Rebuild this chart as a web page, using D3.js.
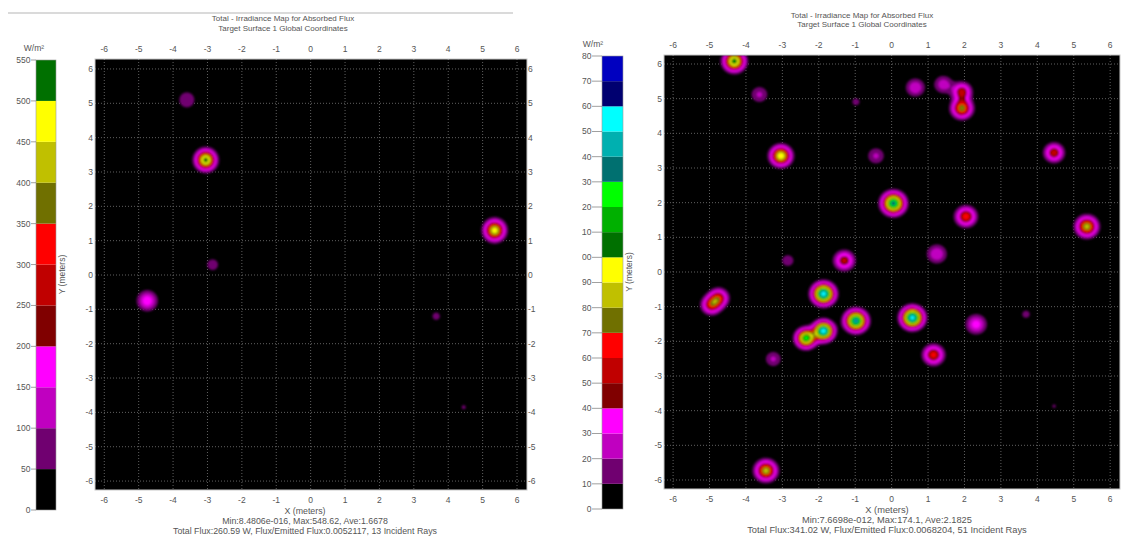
<!DOCTYPE html>
<html>
<head>
<meta charset="utf-8">
<script src="https://cdn.jsdelivr.net/npm/d3@7"></script>
<style>
body { margin: 0; background: #fff; }
text { font-family: "Liberation Sans", Arial, sans-serif; fill: #555; }
</style>
</head>
<body>
<div id="chart"></div>
<script>
// ---- data ----
const titleLines = ["Total - Irradiance Map for Absorbed Flux", "Target Surface 1    Global Coordinates"];
const gridTicks = [-6, -5, -4, -3, -2, -1, 0, 1, 2, 3, 4, 5, 6];

// colour of each legend band, bottom (lowest) first
const bandColors = ["#000000", "#700070", "#c000c0", "#ff00ff", "#800000", "#c00000", "#ff0000",
  "#707000", "#c0c000", "#ffff00", "#007000", "#00b000", "#00ff00", "#007070", "#00b0b0",
  "#00ffff", "#000070", "#0000c0"];

// left map : 13 incident rays
const leftLegendTicks = [0, 50, 100, 150, 200, 250, 300, 350, 400, 450, 500, 550];
const leftSpotX     = [-3.6, -3.05, 5.35, -2.85, -4.75, 3.65, 4.45];
const leftSpotY     = [5.1, 3.35, 1.3, 0.3, -0.75, -1.2, -3.85];
const leftSpotPeak  = [90, 545, 480, 80, 190, 72, 60];
const leftSpotSigma = [0.2, 0.18, 0.185, 0.16, 0.19, 0.125, 0.1];
const leftStats = ["Min:8.4806e-016, Max:548.62, Ave:1.6678",
  "Total Flux:260.59 W, Flux/Emitted Flux:0.0052117, 13 Incident Rays"];

// right map : 51 incident rays
const rightLegendTicks = [0, 10, 20, 30, 40, 50, 60, 70, 80, 90, 100, 110, 120, 130, 140, 150, 160, 170, 180];
const rightSpotX     = [-4.32, -3.63, -0.98, 0.65, 1.42, 1.93, 1.93, -3.04, -0.43, 4.46, 0.05, 2.04, 5.36,
  -2.85, -1.3, 1.24, -4.95, -4.75, -1.87, -0.98, 0.57, 2.32, 3.69, -2.35, -1.87, -3.25, 1.15, 4.46, -3.45];
const rightSpotY     = [6.08, 5.12, 4.91, 5.32, 5.41, 5.2, 4.72, 3.35, 3.35, 3.44, 1.98, 1.6, 1.31,
  0.33, 0.33, 0.52, -0.95, -0.75, -0.63, -1.41, -1.32, -1.51, -1.22, -1.91, -1.7, -2.51, -2.39, -3.87, -5.73];
const rightSpotPeak  = [112, 22, 17, 30, 27, 55, 80, 100, 22, 58, 140, 66, 86,
  20, 54, 30, 60, 60, 158, 145, 156, 36, 18, 125, 160, 22, 64, 14, 86];
const rightSpotSigma = [0.175, 0.17, 0.095, 0.175, 0.175, 0.165, 0.175, 0.175, 0.17, 0.165, 0.185, 0.175, 0.18,
  0.13, 0.175, 0.185, 0.165, 0.165, 0.18, 0.18, 0.18, 0.185, 0.095, 0.165, 0.165, 0.16, 0.175, 0.06, 0.18];
const rightStats = ["Min:7.6698e-012, Max:174.1, Ave:2.1825",
  "Total Flux:341.02 W, Flux/Emitted Flux:0.0068204, 51 Incident Rays"];

// ---- page ----
const svg = d3.select("#chart").append("svg")
  .attr("width", 1121).attr("height", 538).style("display", "block");
svg.append("rect").attr("width", 1121).attr("height", 538).attr("fill", "#fff");

const defs = svg.append("defs");
defs.append("filter").attr("id", "soft")
  .append("feGaussianBlur").attr("stdDeviation", 0.9);

// thin rule above the left map
svg.append("line").attr("x1", 8).attr("x2", 513).attr("y1", 13).attr("y2", 13)
  .attr("stroke", "#b5b5b5");

function drawPanel(p) {
  const g = svg.append("g").attr("id", p.id);

  // scales
  const x = d3.scaleLinear().domain(p.xDomain).range([p.box[0], p.box[2]]);
  const y = d3.scaleLinear().domain(p.yDomain).range([p.box[3], p.box[1]]);
  const cb = d3.scaleLinear().domain(d3.extent(p.legendTicks)).range([p.cbBox[3], p.cbBox[1]]);

  // titles
  g.selectAll(".title").data(titleLines).enter().append("text")
    .attr("x", p.titleX).attr("y", (d, i) => p.titleY + i * 9.5)
    .attr("text-anchor", "middle").style("font-size", "8px").text(d => d);

  // heat map : summed spots, banded on the legend steps
  const nx = Math.round(p.box[2] - p.box[0]), ny = Math.round(p.box[3] - p.box[1]);
  const gx = d3.scaleLinear().domain([0, nx]).range(p.xDomain);
  const gy = d3.scaleLinear().domain([0, ny]).range([p.yDomain[1], p.yDomain[0]]);
  const values = new Float64Array(nx * ny);
  for (let j = 0; j < ny; j++) {
    const my = gy(j + 0.5);
    for (let i = 0; i < nx; i++) {
      const mx = gx(i + 0.5);
      let v = 0;
      for (let k = 0; k < p.sx.length; k++) {
        const dx = mx - p.sx[k], dy = my - p.sy[k], s = p.ss[k];
        v += p.sp[k] * Math.exp(-(dx * dx + dy * dy) / (2 * s * s));
      }
      values[j * nx + i] = v;
    }
  }
  const thresholds = p.legendTicks.slice(1, -1);
  const bands = d3.contours().size([nx, ny]).thresholds(thresholds)(values);
  const toPx = d3.geoTransform({
    point(a, b) { this.stream.point(x(gx(a)), y(gy(b))); }
  });
  const path = d3.geoPath(toPx);

  defs.append("clipPath").attr("id", p.id + "-clip").append("rect")
    .attr("x", p.box[0]).attr("y", p.box[1])
    .attr("width", p.box[2] - p.box[0]).attr("height", p.box[3] - p.box[1]);

  const plot = g.append("g").attr("clip-path", `url(#${p.id}-clip)`);
  plot.append("rect").attr("x", p.box[0]).attr("y", p.box[1])
    .attr("width", p.box[2] - p.box[0]).attr("height", p.box[3] - p.box[1]).attr("fill", "#000");

  // dotted grid
  plot.selectAll(".vg").data(gridTicks).enter().append("line")
    .attr("x1", d => x(d)).attr("x2", d => x(d)).attr("y1", p.box[1]).attr("y2", p.box[3])
    .attr("stroke", "#606060").attr("stroke-dasharray", "1,2");
  plot.selectAll(".hg").data(gridTicks).enter().append("line")
    .attr("y1", d => y(d)).attr("y2", d => y(d)).attr("x1", p.box[0]).attr("x2", p.box[2])
    .attr("stroke", "#606060").attr("stroke-dasharray", "1,2");

  plot.append("g").attr("filter", "url(#soft)")
    .selectAll("path").data(bands).enter().append("path")
    .attr("d", path).attr("fill", (d, i) => bandColors[i + 1]);

  g.append("rect").attr("x", p.box[0]).attr("y", p.box[1])
    .attr("width", p.box[2] - p.box[0]).attr("height", p.box[3] - p.box[1])
    .attr("fill", "none").attr("stroke", "#c8c8c8");

  // tick labels
  const fs = p.tickSize + "px";
  g.selectAll(".xt").data(gridTicks).enter().append("text")
    .attr("x", d => x(d)).attr("y", p.box[1] - 7).attr("text-anchor", "middle")
    .style("font-size", fs).text(d => d);
  g.selectAll(".xb").data(gridTicks).enter().append("text")
    .attr("x", d => x(d)).attr("y", p.box[3] + 13).attr("text-anchor", "middle")
    .style("font-size", fs).text(d => d);
  g.selectAll(".yl").data(gridTicks).enter().append("text")
    .attr("x", p.box[0] - 2).attr("y", d => y(d)).attr("dy", "0.35em").attr("text-anchor", "end")
    .style("font-size", fs).text(d => d);
  if (p.rightLabels) {
    g.selectAll(".yr").data(gridTicks).enter().append("text")
      .attr("x", p.box[2] + 1).attr("y", d => y(d)).attr("dy", "0.35em")
      .style("font-size", fs).text(d => d);
  }

  // axis titles and stats
  g.append("text").attr("x", p.footX).attr("y", p.box[3] + 24).attr("text-anchor", "middle")
    .style("font-size", p.footSize + "px").text("X (meters)");
  g.selectAll(".stat").data(p.stats).enter().append("text")
    .attr("x", p.footX).attr("y", (d, i) => p.box[3] + 34 + i * 10).attr("text-anchor", "middle")
    .style("font-size", p.footSize + "px").text(d => d);
  g.append("text")
    .attr("transform", `translate(${p.yLabelX},${(p.box[1] + p.box[3]) / 2}) rotate(-90)`)
    .attr("text-anchor", "middle").attr("dy", "0.35em")
    .style("font-size", fs).text("Y (meters)");

  // legend colour bar
  const lg = g.append("g");
  lg.selectAll("rect").data(p.legendTicks.slice(0, -1)).enter().append("rect")
    .attr("x", p.cbBox[0]).attr("width", p.cbBox[2] - p.cbBox[0])
    .attr("y", (d, i) => cb(p.legendTicks[i + 1])).attr("height", (d, i) => cb(d) - cb(p.legendTicks[i + 1]))
    .attr("fill", (d, i) => bandColors[i]);
  lg.append("rect").attr("x", p.cbBox[0]).attr("y", p.cbBox[1])
    .attr("width", p.cbBox[2] - p.cbBox[0]).attr("height", p.cbBox[3] - p.cbBox[1])
    .attr("fill", "none").attr("stroke", "#999").attr("stroke-width", 0.6);

  // the right picture is cropped on its left, hiding the hundreds digit
  defs.append("clipPath").attr("id", p.id + "-lab").append("rect")
    .attr("x", p.labelClip).attr("y", 0).attr("width", 200).attr("height", 538);
  const lab = lg.append("g").attr("clip-path", `url(#${p.id}-lab)`);
  lab.selectAll("line").data(p.legendTicks).enter().append("line")
    .attr("x1", p.cbLabelX).attr("x2", p.cbBox[0]).attr("y1", d => cb(d)).attr("y2", d => cb(d))
    .attr("stroke", "#777").attr("stroke-width", 0.7);
  lab.selectAll("text").data(p.legendTicks).enter().append("text")
    .attr("x", p.cbLabelX - 0.5).attr("y", d => cb(d)).attr("dy", "0.35em").attr("text-anchor", "end")
    .style("font-size", fs).text(d => d);
  lab.append("text").attr("x", p.unitX).attr("y", p.cbBox[1] - 9).attr("text-anchor", "middle")
    .style("font-size", fs).text("W/m²");
}

drawPanel({
  id: "left", box: [95, 59, 527, 490], xDomain: [-6.27, 6.29], yDomain: [-6.26, 6.29],
  cbBox: [36, 60, 56, 510], cbLabelX: 31, labelClip: 0, unitX: 34, yLabelX: 62,
  titleX: 283, titleY: 21, footX: 305, tickSize: 8.5, footSize: 8.8, rightLabels: true,
  legendTicks: leftLegendTicks, stats: leftStats,
  sx: leftSpotX, sy: leftSpotY, sp: leftSpotPeak, ss: leftSpotSigma
});

drawPanel({
  id: "right", box: [664, 55, 1120, 489], xDomain: [-6.25, 6.27], yDomain: [-6.26, 6.26],
  cbBox: [602, 56, 623, 509], cbLabelX: 592, labelClip: 582, unitX: 593, yLabelX: 629,
  titleX: 862, titleY: 17.5, footX: 887, tickSize: 8.5, footSize: 9.3, rightLabels: false,
  legendTicks: rightLegendTicks, stats: rightStats,
  sx: rightSpotX, sy: rightSpotY, sp: rightSpotPeak, ss: rightSpotSigma
});
</script>
</body>
</html>
